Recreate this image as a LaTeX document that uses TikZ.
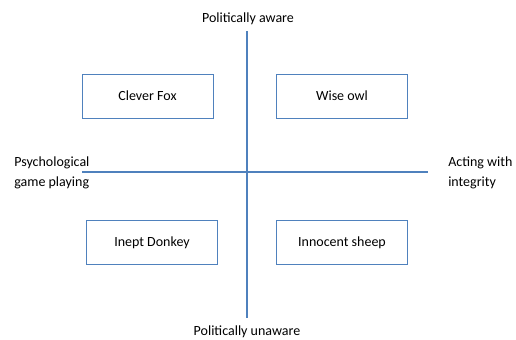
\documentclass[tikz,border=0pt]{standalone}
\usepackage{fontspec}
\setmainfont{Carlito}
\definecolor{axisblue}{RGB}{79,129,189}
\tikzset{
  quadbox/.style={draw=axisblue, line width=0.75pt, minimum width=98.25pt, minimum height=33pt, inner sep=0pt},
  axisline/.style={draw=axisblue, line width=1.1pt},
  txt/.style={inner sep=0.75pt, font=\fontsize{10.5}{15}\selectfont}
}
\begin{document}
\begin{tikzpicture}[x=0.75pt,y=0.75pt,yscale=-1,xscale=1]
\useasboundingbox (0,0) rectangle (516,339);

%Shape: Axis ends
\coordinate (top) at (247,31);
\coordinate (bottom) at (247,318);
\coordinate (left) at (82,172);
\coordinate (right) at (428,172);
%Shape: Axes
\draw [axisline] (top) -- (bottom);
\draw [axisline] (left) -- (right);

%Shape: Rectangle
\node [quadbox, txt] (fox) at (147.5,96) {Clever Fox};
%Shape: Rectangle
\node [quadbox, txt] (owl) at (342,96) {Wise owl};
%Shape: Rectangle
\node [quadbox, txt] (donkey) at (152,242.5) {Inept Donkey};
%Shape: Rectangle
\node [quadbox, txt] (sheep) at (342,242.5) {Innocent sheep};

% Text Node
\node [txt] (aware) at (248,19) {Politically aware};
% Text Node
\node [txt] (unaware) at (247,332) {Politically unaware};
% Text Node
\node [txt, anchor=west, align=left] (game) at (13,173) {Psychological\\game playing};
% Text Node
\node [txt, anchor=west, align=left] (integrity) at (447,173) {Acting with\\integrity};

\end{tikzpicture}
\end{document}
